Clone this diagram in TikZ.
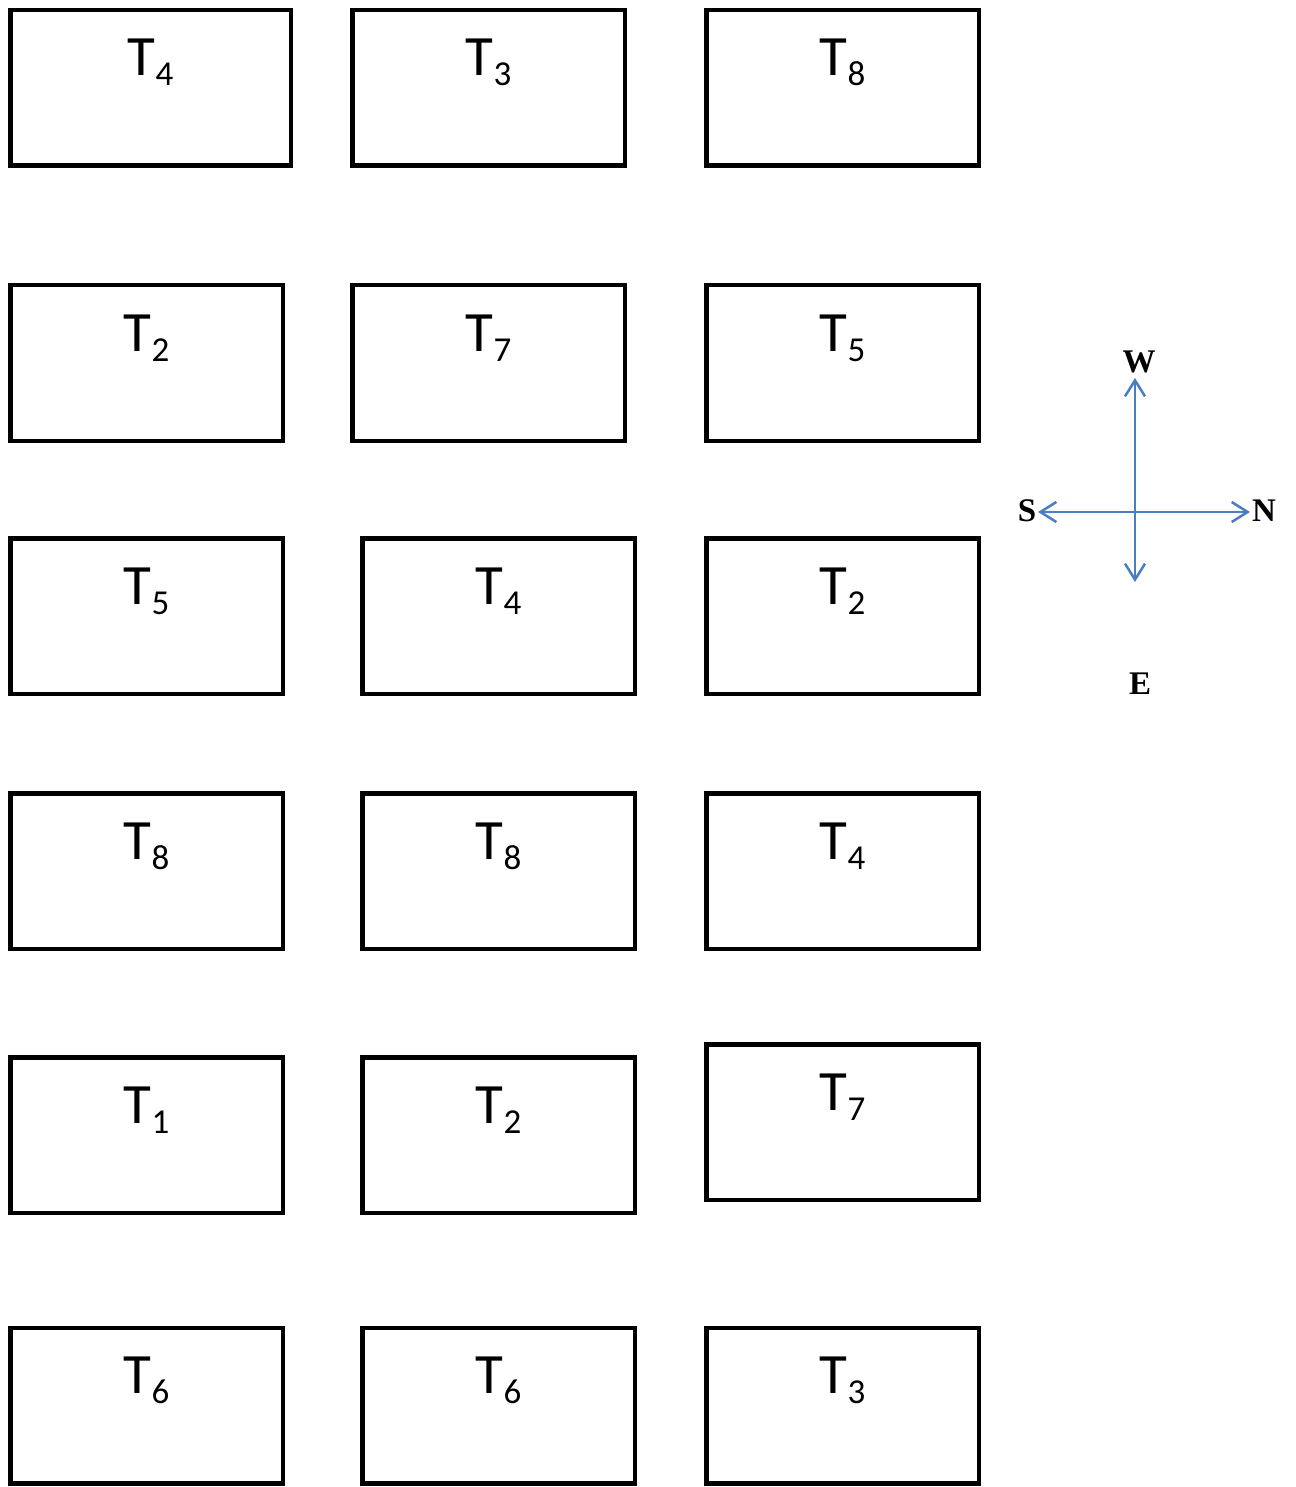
\documentclass[tikz,border=0pt]{standalone}
\usepackage{fontspec}
\setmainfont{Carlito}
\newfontfamily\compassfont{Liberation Serif}
\usetikzlibrary{arrows.meta}
\definecolor{compassblue}{RGB}{74,126,193}
\newcommand{\tlabel}[1]{\fontsize{57}{57}\selectfont T\raisebox{-10pt}{\fontsize{35}{35}\selectfont #1}}
\begin{document}
\begin{tikzpicture}[x=1pt,y=-1pt,
  tbox/.style={draw=black,line width=4.5pt,rectangle,minimum height=155.5pt,inner sep=0pt},
  wide/.style={tbox,minimum width=280.5pt},
  narrow/.style={tbox,minimum width=272.5pt},
  tlab/.style={anchor=base,inner sep=0pt},
  dir/.style={font=\compassfont\bfseries\fontsize{33}{33}\selectfont,inner sep=0pt},
  carrow/.style={draw=compassblue,line width=2.5pt,{Straight Barb[length=16pt,width=20pt]}-{Straight Barb[length=16pt,width=20pt]}}]
\useasboundingbox (0,0) rectangle (1295,1487);
% row 1
\node[wide] (b11) at (150.5,88) {};
\node[narrow] (b12) at (488.5,88) {};
\node[narrow] (b13) at (842.5,88) {};
% row 2
\node[narrow] (b21) at (146.5,363) {};
\node[narrow] (b22) at (488.5,363) {};
\node[narrow] (b23) at (842.5,363) {};
% row 3
\node[narrow] (b31) at (146.5,616) {};
\node[narrow] (b32) at (498.5,616) {};
\node[narrow] (b33) at (842.5,616) {};
% row 4
\node[narrow] (b41) at (146.5,871) {};
\node[narrow] (b42) at (498.5,871) {};
\node[narrow] (b43) at (842.5,871) {};
% row 5
\node[narrow] (b51) at (146.5,1135) {};
\node[narrow] (b52) at (498.5,1135) {};
\node[narrow] (b53) at (842.5,1122) {};
% row 6
\node[narrow] (b61) at (146.5,1405.5) {};
\node[narrow] (b62) at (498.5,1405.5) {};
\node[narrow] (b63) at (842.5,1405.5) {};
% labels
\foreach \n/\s in {b11/4,b12/3,b13/8,b21/2,b22/7,b23/5,b31/5,b32/4,b33/2,b41/8,b42/8,b43/4,b51/1,b52/2,b53/7,b61/6,b62/6,b63/3}{
  \node[tlab] (l\n) at ([yshift=-68pt]\n.north) {\tlabel{\s}};
}
% compass
\coordinate (cW) at (1135,378);
\coordinate (cE) at (1135,582);
\coordinate (cS) at (1038,512);
\coordinate (cN) at (1250,512);
\draw[carrow] (cE) -- (cW);
\draw[carrow] (cS) -- (cN);
\node[dir] (dW) at (1139,362) {W};
\node[dir] (dS) at (1027,511) {S};
\node[dir] (dN) at (1264,511) {N};
\node[dir] (dE) at (1140,684) {E};
\end{tikzpicture}
\end{document}
